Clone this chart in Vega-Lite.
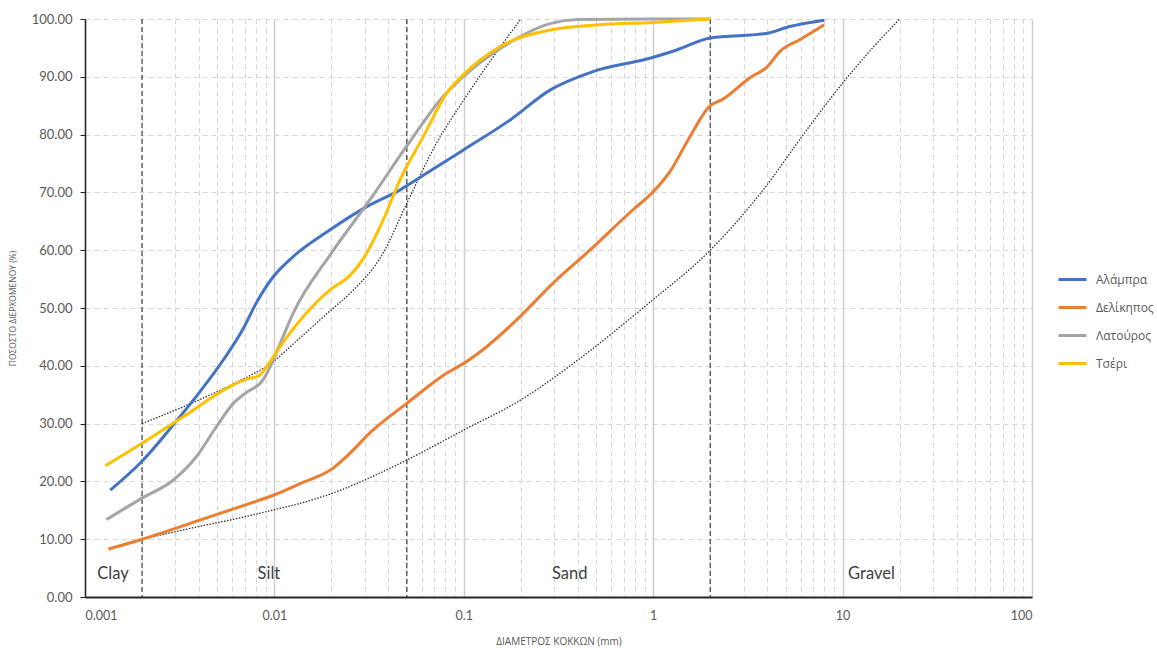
{
  "$schema": "https://vega.github.io/schema/vega-lite/v6.json",
  "autosize": "none",
  "width": 947,
  "height": 578,
  "padding": {"left": 85, "top": 19, "right": 125, "bottom": 51},
  "background": "white",
  "config": {"view": {"stroke": null}, "font": "Open Sans"},
  "datasets": {
    "curves": [
      {"series": "Αλάμπρα", "d": 0.00136, "p": 18.5},
      {"series": "Αλάμπρα", "d": 0.002, "p": 23.5},
      {"series": "Αλάμπρα", "d": 0.00317, "p": 31.2},
      {"series": "Αλάμπρα", "d": 0.00404, "p": 35.5},
      {"series": "Αλάμπρα", "d": 0.00537, "p": 41.0},
      {"series": "Αλάμπρα", "d": 0.00684, "p": 46.4},
      {"series": "Αλάμπρα", "d": 0.00800, "p": 50.8},
      {"series": "Αλάμπρα", "d": 0.00986, "p": 55.4},
      {"series": "Αλάμπρα", "d": 0.01257, "p": 58.9},
      {"series": "Αλάμπρα", "d": 0.0196, "p": 63.5},
      {"series": "Αλάμπρα", "d": 0.0306, "p": 67.5},
      {"series": "Αλάμπρα", "d": 0.0459, "p": 70.4},
      {"series": "Αλάμπρα", "d": 0.0636, "p": 73.3},
      {"series": "Αλάμπρα", "d": 0.0991, "p": 77.3},
      {"series": "Αλάμπρα", "d": 0.175, "p": 82.5},
      {"series": "Αλάμπρα", "d": 0.285, "p": 87.7},
      {"series": "Αλάμπρα", "d": 0.481, "p": 90.9},
      {"series": "Αλάμπρα", "d": 0.959, "p": 93.2},
      {"series": "Αλάμπρα", "d": 1.32, "p": 94.6},
      {"series": "Αλάμπρα", "d": 2.0, "p": 96.7},
      {"series": "Αλάμπρα", "d": 3.96, "p": 97.5},
      {"series": "Αλάμπρα", "d": 5.25, "p": 98.7},
      {"series": "Αλάμπρα", "d": 8.0, "p": 99.8},
      {"series": "Δελίκηπος", "d": 0.00133, "p": 8.3},
      {"series": "Δελίκηπος", "d": 0.002, "p": 10.0},
      {"series": "Δελίκηπος", "d": 0.00404, "p": 13.3},
      {"series": "Δελίκηπος", "d": 0.00743, "p": 16.2},
      {"series": "Δελίκηπος", "d": 0.00986, "p": 17.6},
      {"series": "Δελίκηπος", "d": 0.01365, "p": 19.6},
      {"series": "Δελίκηπος", "d": 0.0204, "p": 22.3},
      {"series": "Δελίκηπος", "d": 0.024, "p": 24.3},
      {"series": "Δελίκηπος", "d": 0.0332, "p": 28.9},
      {"series": "Δελίκηπος", "d": 0.05, "p": 33.5},
      {"series": "Δελίκηπος", "d": 0.081, "p": 38.7},
      {"series": "Δελίκηπος", "d": 0.103, "p": 40.7},
      {"series": "Δελίκηπος", "d": 0.132, "p": 43.3},
      {"series": "Δελίκηπος", "d": 0.198, "p": 48.5},
      {"series": "Δελίκηπος", "d": 0.296, "p": 54.3},
      {"series": "Δελίκηπος", "d": 0.463, "p": 60.0},
      {"series": "Δελίκηπος", "d": 0.782, "p": 67.0},
      {"series": "Δελίκηπος", "d": 1.0, "p": 70.1},
      {"series": "Δελίκηπος", "d": 1.22, "p": 73.5},
      {"series": "Δελίκηπος", "d": 1.56, "p": 79.6},
      {"series": "Δελίκηπος", "d": 2.0, "p": 85.0},
      {"series": "Δελίκηπος", "d": 2.3, "p": 86.0},
      {"series": "Δελίκηπος", "d": 3.3, "p": 90.0},
      {"series": "Δελίκηπος", "d": 3.96, "p": 91.6},
      {"series": "Δελίκηπος", "d": 4.7, "p": 94.5},
      {"series": "Δελίκηπος", "d": 5.93, "p": 96.4},
      {"series": "Δελίκηπος", "d": 8.0, "p": 99.0},
      {"series": "Λατούρος", "d": 0.0013, "p": 13.4},
      {"series": "Λατούρος", "d": 0.002, "p": 17.1},
      {"series": "Λατούρος", "d": 0.00292, "p": 20.2},
      {"series": "Λατούρος", "d": 0.00388, "p": 24.3},
      {"series": "Λατούρος", "d": 0.00495, "p": 29.5},
      {"series": "Λατούρος", "d": 0.00607, "p": 33.5},
      {"series": "Λατούρος", "d": 0.00713, "p": 35.4},
      {"series": "Λατούρος", "d": 0.00873, "p": 37.6},
      {"series": "Λατούρος", "d": 0.00986, "p": 41.0},
      {"series": "Λατούρος", "d": 0.0111, "p": 45.0},
      {"series": "Λατούρος", "d": 0.01257, "p": 49.1},
      {"series": "Λατούρος", "d": 0.02, "p": 59.5},
      {"series": "Λατούρος", "d": 0.0319, "p": 68.7},
      {"series": "Λατούρος", "d": 0.0497, "p": 77.9},
      {"series": "Λατούρος", "d": 0.0778, "p": 86.6},
      {"series": "Λατούρος", "d": 0.0991, "p": 90.0},
      {"series": "Λατούρος", "d": 0.161, "p": 95.2},
      {"series": "Λατούρος", "d": 0.285, "p": 99.2},
      {"series": "Λατούρος", "d": 0.4, "p": 99.9},
      {"series": "Λατούρος", "d": 1.0, "p": 100},
      {"series": "Λατούρος", "d": 2.0, "p": 100},
      {"series": "Τσέρι", "d": 0.00128, "p": 22.7},
      {"series": "Τσέρι", "d": 0.002, "p": 26.6},
      {"series": "Τσέρι", "d": 0.0033, "p": 31.2},
      {"series": "Τσέρι", "d": 0.00607, "p": 36.7},
      {"series": "Τσέρι", "d": 0.00713, "p": 37.7},
      {"series": "Τσέρι", "d": 0.00822, "p": 38.2},
      {"series": "Τσέρι", "d": 0.0091, "p": 39.8},
      {"series": "Τσέρι", "d": 0.0103, "p": 42.5},
      {"series": "Τσέρι", "d": 0.0196, "p": 53.1},
      {"series": "Τσέρι", "d": 0.025, "p": 55.6},
      {"series": "Τσέρι", "d": 0.0294, "p": 58.5},
      {"series": "Τσέρι", "d": 0.0375, "p": 65.2},
      {"series": "Τσέρι", "d": 0.0459, "p": 72.1},
      {"series": "Τσέρι", "d": 0.061, "p": 79.6},
      {"series": "Τσέρι", "d": 0.081, "p": 87.1},
      {"series": "Τσέρι", "d": 0.0991, "p": 90.3},
      {"series": "Τσέρι", "d": 0.155, "p": 95.2},
      {"series": "Τσέρι", "d": 0.285, "p": 98.1},
      {"series": "Τσέρι", "d": 0.522, "p": 99.0},
      {"series": "Τσέρι", "d": 1.0, "p": 99.4},
      {"series": "Τσέρι", "d": 2.0, "p": 100}
    ],
    "fits": [
      {"fit": "upper", "d": 0.002, "p": 30.0},
      {"fit": "upper", "d": 0.004, "p": 34.1},
      {"fit": "upper", "d": 0.006, "p": 36.8},
      {"fit": "upper", "d": 0.01, "p": 40.9},
      {"fit": "upper", "d": 0.0131, "p": 44.3},
      {"fit": "upper", "d": 0.02, "p": 49.7},
      {"fit": "upper", "d": 0.025, "p": 52.5},
      {"fit": "upper", "d": 0.0375, "p": 59.5},
      {"fit": "upper", "d": 0.05, "p": 68.1},
      {"fit": "upper", "d": 0.0717, "p": 78.5},
      {"fit": "upper", "d": 0.1, "p": 86.0},
      {"fit": "upper", "d": 0.161, "p": 95.8},
      {"fit": "upper", "d": 0.2, "p": 100},
      {"fit": "lower", "d": 0.002, "p": 10.0},
      {"fit": "lower", "d": 0.003, "p": 11.3},
      {"fit": "lower", "d": 0.004, "p": 12.2},
      {"fit": "lower", "d": 0.006, "p": 13.4},
      {"fit": "lower", "d": 0.01, "p": 15.1},
      {"fit": "lower", "d": 0.0137, "p": 16.2},
      {"fit": "lower", "d": 0.02, "p": 17.9},
      {"fit": "lower", "d": 0.05, "p": 23.7},
      {"fit": "lower", "d": 0.1, "p": 28.9},
      {"fit": "lower", "d": 0.2, "p": 34.1},
      {"fit": "lower", "d": 0.4, "p": 41.0},
      {"fit": "lower", "d": 0.92, "p": 50.5},
      {"fit": "lower", "d": 2.0, "p": 60.0},
      {"fit": "lower", "d": 3.8, "p": 70.4},
      {"fit": "lower", "d": 6.43, "p": 80.7},
      {"fit": "lower", "d": 10, "p": 88.9},
      {"fit": "lower", "d": 14.5, "p": 95.1},
      {"fit": "lower", "d": 20, "p": 100}
    ],
    "bounds": [{"d": 0.002}, {"d": 0.05}, {"d": 2}],
    "zones": [
      {"name": "Clay", "d": 0.001405, "p": 4.0},
      {"name": "Silt", "d": 0.00935, "p": 4.0},
      {"name": "Sand", "d": 0.362, "p": 4.0},
      {"name": "Gravel", "d": 14.2, "p": 4.0}
    ]
  },
  "encoding": {
    "x": {
      "field": "d",
      "type": "quantitative",
      "scale": {"type": "log", "domain": [0.001, 100], "nice": false},
      "axis": {
        "title": "ΔΙΑΜΕΤΡΟΣ ΚΟΚΚΩΝ (mm)",
        "titleFont": "Open Sans",
        "titleFontSize": 10,
        "titleFontWeight": "normal",
        "titleColor": "#595959",
        "titleY": 44,
        "titleBaseline": "middle",
        "values": [0.001, 0.002, 0.003, 0.004, 0.005, 0.006, 0.007, 0.008, 0.009, 0.01, 0.02, 0.03, 0.04, 0.05, 0.06, 0.07, 0.08, 0.09, 0.1, 0.2, 0.3, 0.4, 0.5, 0.6, 0.7, 0.8, 0.9, 1, 2, 3, 4, 5, 6, 7, 8, 9, 10, 20, 30, 40, 50, 60, 70, 80, 90, 100],
        "format": "~g",
        "labelExpr": "abs(log(datum.value)/LN10 - round(log(datum.value)/LN10)) < 0.001 ? datum.label : ''",
        "labelOverlap": false,
        "labelFont": "Lato",
        "labelFontSize": 12.5,
        "labelColor": "#595959",
        "labelPadding": 12,
        "ticks": false,
        "domainColor": "#262626",
        "domainWidth": 2,
        "grid": true,
        "gridColor": {"condition": {"test": "abs(log(datum.value)/LN10 - round(log(datum.value)/LN10)) < 0.001", "value": "#cfcfcf"}, "value": "#d6d6d6"},
        "gridDash": {"condition": {"test": "abs(log(datum.value)/LN10 - round(log(datum.value)/LN10)) < 0.001", "value": []}, "value": [5, 4]},
        "gridWidth": {"condition": {"test": "abs(log(datum.value)/LN10 - round(log(datum.value)/LN10)) < 0.001", "value": 1.5}, "value": 1}
      }
    }
  },
  "layer": [
    {
      "data": {"name": "bounds"},
      "mark": {"type": "rule", "color": "#404040", "strokeDash": [5, 3], "strokeWidth": 1.2},
      "encoding": {}
    },
    {
      "data": {"name": "fits"},
      "mark": {"type": "line", "interpolate": "monotone", "color": "#333333", "strokeDash": [1.5, 1.5], "strokeWidth": 1.3},
      "encoding": {
        "y": {
          "field": "p",
          "type": "quantitative",
          "scale": {"domain": [0, 100], "nice": false},
          "axis": {
            "title": "ΠΟΣΟΣΤΟ ΔΙΕΡΧΟΜΕΝΟΥ (%)",
            "titleFont": "Open Sans",
            "titleFontSize": 8.5,
            "titleFontWeight": "normal",
            "titleColor": "#595959",
            "titleX": -73,
            "titleY": 289,
            "titleAngle": 270,
            "titleAlign": "center",
            "titleBaseline": "middle",
            "values": [0, 10, 20, 30, 40, 50, 60, 70, 80, 90, 100],
            "format": ".2f",
            "labelFont": "Lato",
            "labelFontSize": 13,
            "labelColor": "#595959",
            "labelPadding": 8,
            "tickColor": "#262626",
            "tickSize": 5,
            "domainColor": "#262626",
            "domainWidth": 1.5,
            "grid": true,
            "gridColor": "#d6d6d6",
            "gridDash": [5, 4]
          }
        },
        "detail": {"field": "fit"}
      }
    },
    {
      "data": {"name": "curves"},
      "mark": {"type": "line", "interpolate": "monotone", "strokeWidth": 3},
      "encoding": {
        "y": {"field": "p", "type": "quantitative"},
        "color": {
          "field": "series",
          "type": "nominal",
          "scale": {"domain": ["Αλάμπρα", "Δελίκηπος", "Λατούρος", "Τσέρι"], "range": ["#4472C4", "#ED7D31", "#A5A5A5", "#FFC000"]},
          "legend": {
            "title": null,
            "orient": "none",
            "legendX": 972,
            "legendY": 245,
            "symbolType": "stroke",
            "symbolSize": 784,
            "symbolStrokeWidth": 3,
            "labelFont": "Open Sans",
            "labelFontSize": 12,
            "labelColor": "#595959",
            "labelOffset": 8,
            "rowPadding": 6
          }
        }
      }
    },
    {
      "data": {"name": "zones"},
      "mark": {"type": "text", "font": "Lato", "fontSize": 16.5, "color": "#404040", "align": "center", "baseline": "middle"},
      "encoding": {"y": {"field": "p", "type": "quantitative"}, "text": {"field": "name"}}
    }
  ]
}
